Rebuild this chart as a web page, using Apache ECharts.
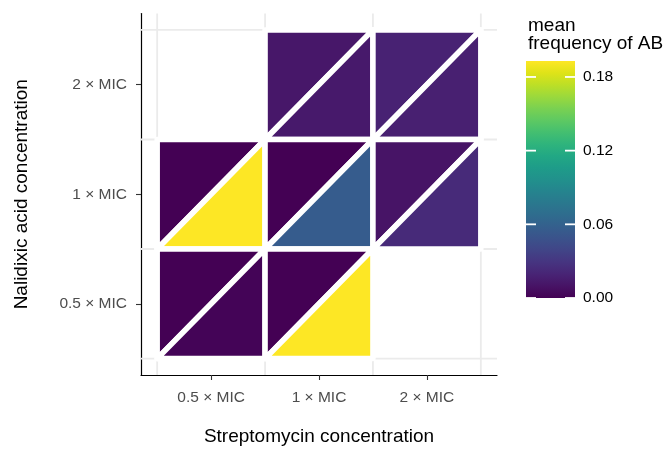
<!DOCTYPE html>
<html><head><meta charset="utf-8">
<script src="https://cdn.jsdelivr.net/npm/echarts@6/dist/echarts.min.js"></script>
<style>html,body{margin:0;padding:0;background:#fff}#c{width:665px;height:451px}</style>
</head><body><div id="c"></div>
<script>
// ---- data ----
const concentrationLabels = ['0.5 × MIC', '1 × MIC', '2 × MIC'];
const streptomycinIndex = [2, 3, 1, 2, 3, 1, 2];   // x position of each tile
const nalidixicIndex    = [3, 3, 2, 2, 2, 1, 1];   // y position of each tile
const upperLeftValues   = [0.012, 0.018, 0.000, 0.000, 0.010, 0.000, 0.000];
const lowerRightValues  = [0.013, 0.017, 0.193, 0.056, 0.023, 0.0015, 0.193];
const colorbarTicks = [0, 0.06, 0.12, 0.18];
const colorMin = 0, colorMax = 0.193;
const tickValues = [1, 2, 3];
const gridBreaks = [0.5, 1.5, 2.5, 3.5];
const viridis = ['#440154','#471365','#482475','#463480','#414487','#3b528b','#355f8d','#2f6c8e','#2a788e','#25848e','#21918c','#1e9c89','#22a884','#2fb47c','#44bf70','#5ec962','#7ad151','#9bd93c','#bddf26','#dfe318','#fde725'];

const AX_MIN = 0.35, AX_MAX = 3.65;
const FONT = 'Liberation Sans';

const tileData = [];
for (let i = 0; i < streptomycinIndex.length; i++) {
  tileData.push([streptomycinIndex[i], nalidixicIndex[i], 0, upperLeftValues[i]]);
  tileData.push([streptomycinIndex[i], nalidixicIndex[i], 1, lowerRightValues[i]]);
}

const chart = echarts.init(document.getElementById('c'), null, {renderer: 'canvas'});
chart.setOption({
  animation: false,
  backgroundColor: '#fff',
  textStyle: {fontFamily: FONT},
  title: {
    text: 'mean\nfrequency of AB',
    left: 523, top: 12,
    textStyle: {fontFamily: FONT, fontSize: 19, fontWeight: 'normal', color: '#000', lineHeight: 18}
  },
  grid: [
    {left: 141, right: 168, top: 13.5, bottom: 73.5},
    {left: 526, top: 61, width: 49, height: 237}
  ],
  xAxis: [
    {
      gridIndex: 0, type: 'value', min: AX_MIN, max: AX_MAX,
      name: 'Streptomycin concentration', nameLocation: 'middle', nameGap: 52,
      nameTextStyle: {fontFamily: FONT, fontSize: 19, color: '#000'},
      axisLine: {show: true, lineStyle: {color: '#000', width: 1.2}},
      axisTick: {show: true, customValues: tickValues, length: 5, lineStyle: {color: '#333', width: 1.1}},
      axisLabel: {show: true, customValues: tickValues, margin: 15, fontSize: 15.5, color: '#4d4d4d', fontFamily: FONT,
        formatter: v => concentrationLabels[Math.round(v) - 1]},
      splitLine: {show: false}
    },
    {gridIndex: 1, type: 'value', min: 0, max: 1, show: false}
  ],
  yAxis: [
    {
      gridIndex: 0, type: 'value', min: AX_MIN, max: AX_MAX,
      name: 'Nalidixic acid concentration', nameLocation: 'middle', nameGap: 110,
      nameTextStyle: {fontFamily: FONT, fontSize: 19, color: '#000'},
      axisLine: {show: true, lineStyle: {color: '#000', width: 1.2}},
      axisTick: {show: true, customValues: tickValues, length: 5, lineStyle: {color: '#333', width: 1.1}},
      axisLabel: {show: true, customValues: tickValues, margin: 14, fontSize: 15.5, color: '#4d4d4d', fontFamily: FONT,
        formatter: v => concentrationLabels[Math.round(v) - 1]},
      splitLine: {show: false}
    },
    {
      gridIndex: 1, type: 'value', position: 'right', min: colorMin, max: colorMax,
      axisLine: {show: false},
      axisTick: {show: false},
      axisLabel: {show: true, customValues: colorbarTicks, margin: 8, fontSize: 15.5, color: '#000', fontFamily: FONT,
        formatter: v => v.toFixed(2)},
      splitLine: {show: false}
    }
  ],
  visualMap: {
    show: false,
    type: 'continuous', min: colorMin, max: colorMax, dimension: 3, seriesIndex: 1,
    inRange: {color: viridis}
  },
  series: [
    {
      type: 'custom', xAxisIndex: 0, yAxisIndex: 0, silent: true, z: 1,
      data: gridBreaks.map(b => [b]),
      encode: {x: 0, y: 0},
      renderItem: (params, api) => {
        const b = api.value(0);
        const v0 = api.coord([b, AX_MIN]), v1 = api.coord([b, AX_MAX]);
        const h0 = api.coord([AX_MIN, b]), h1 = api.coord([AX_MAX, b]);
        const st = {stroke: '#ebebeb', lineWidth: 1.8};
        return {type: 'group', children: [
          {type: 'line', shape: {x1: v0[0], y1: v0[1], x2: v1[0], y2: v1[1]}, style: st},
          {type: 'line', shape: {x1: h0[0], y1: h0[1], x2: h1[0], y2: h1[1]}, style: st}
        ]};
      }
    },
    {
      type: 'custom', xAxisIndex: 0, yAxisIndex: 0, silent: true, z: 2,
      data: tileData,
      encode: {x: 0, y: 1},
      renderItem: (params, api) => {
        const x = api.value(0), y = api.value(1), t = api.value(2);
        const bl = api.coord([x - 0.5, y - 0.5]);
        const tl = api.coord([x - 0.5, y + 0.5]);
        const tr = api.coord([x + 0.5, y + 0.5]);
        const br = api.coord([x + 0.5, y - 0.5]);
        const pts = t === 0 ? [bl, tl, tr] : [bl, br, tr];
        return {type: 'polygon', shape: {points: pts},
          style: {fill: api.visual('color'), stroke: '#fff', lineWidth: 5.5, lineJoin: 'round'}};
      }
    },
    {
      // colour bar
      type: 'custom', xAxisIndex: 1, yAxisIndex: 1, silent: true, z: 2,
      data: [[0, colorMin, 1, colorMax]],
      encode: {x: [0, 2], y: [1, 3]},
      renderItem: (params, api) => {
        const p0 = api.coord([api.value(0), api.value(1)]);
        const p1 = api.coord([api.value(2), api.value(3)]);
        const stops = viridis.map((c, i) => ({offset: i / (viridis.length - 1), color: c}));
        return {type: 'rect',
          shape: {x: p0[0], y: p1[1], width: p1[0] - p0[0], height: p0[1] - p1[1]},
          style: {fill: new echarts.graphic.LinearGradient(0, 1, 0, 0, stops)}};
      }
    },
    {
      // colour bar ticks
      type: 'custom', xAxisIndex: 1, yAxisIndex: 1, silent: true, z: 3,
      data: colorbarTicks.map(v => [0, v]),
      encode: {x: 0, y: 1},
      renderItem: (params, api) => {
        const v = api.value(1);
        const a = api.coord([0, v]), b = api.coord([1, v]);
        const st = {stroke: '#fff', lineWidth: 1.8};
        return {type: 'group', children: [
          {type: 'line', shape: {x1: a[0], y1: a[1], x2: a[0] + 10, y2: a[1]}, style: st},
          {type: 'line', shape: {x1: b[0] - 10, y1: b[1], x2: b[0], y2: b[1]}, style: st}
        ]};
      }
    }
  ]
});
</script></body></html>
